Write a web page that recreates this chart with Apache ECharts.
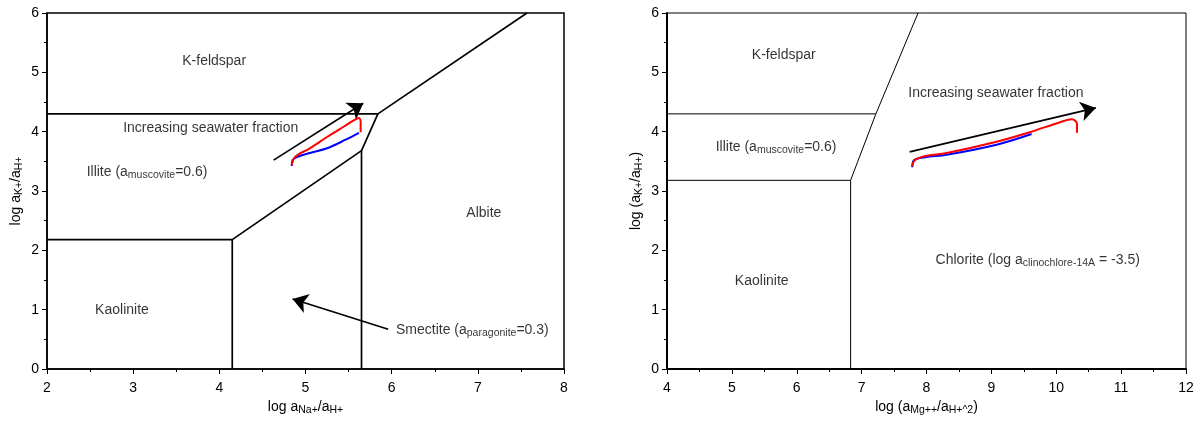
<!DOCTYPE html>
<html>
<head>
<meta charset="utf-8">
<script src="https://cdn.jsdelivr.net/npm/echarts@6/dist/echarts.min.js"></script>
<style>
  html, body { margin: 0; padding: 0; background: #fff; }
  #chart { width: 1202px; height: 421px; }
</style>
</head>
<body>
<div id="chart"></div>
<script>
// ---- Na-K system (left diagram) ----
const naPhaseBoundaries = [
  [[2, 4.3], [5.84, 4.3], [7.57, 6]],
  [[2, 2.18], [4.15, 2.18], [4.15, 0]],
  [[4.15, 2.18], [5.65, 3.68], [5.84, 4.3]],
  [[5.65, 3.68], [5.65, 0]]
];
const naRedPath = [[4.84, 3.44], [4.87, 3.56], [4.91, 3.61], [5.05, 3.72], [5.25, 3.91], [5.46, 4.10], [5.57, 4.20], [5.62, 4.23], [5.64, 4.16], [5.64, 3.99]];
const naBluePath = [[4.84, 3.42], [4.85, 3.52], [4.90, 3.57], [5.05, 3.64], [5.25, 3.72], [5.46, 3.86], [5.62, 3.98]];
const naArrows = [
  [[4.63, 3.52], [5.67, 4.48]],
  [[5.96, 0.67], [4.85, 1.18]]
];
const naLabels = [
  { at: [3.94, 5.19], text: 'K-feldspar', align: 'center' },
  { at: [3.90, 4.06], text: 'Increasing seawater fraction', align: 'center' },
  { at: [2.46, 3.32], text: 'Illite (a{sub|muscovite}=0.6)', align: 'left' },
  { at: [7.07, 2.63], text: 'Albite', align: 'center' },
  { at: [2.87, 0.99], text: 'Kaolinite', align: 'center' },
  { at: [6.05, 0.66], text: 'Smectite (a{sub|paragonite}=0.3)', align: 'left' }
];

// ---- Mg-K system (right diagram) ----
const mgPhaseBoundaries = [
  [[4, 4.3], [7.22, 4.3]],
  [[7.87, 6], [7.22, 4.3], [6.83, 3.18], [6.83, 0]],
  [[4, 3.18], [6.83, 3.18]]
];
const mgRedPath = [[7.78, 3.42], [7.82, 3.52], [7.98, 3.59], [8.31, 3.64], [9.08, 3.83], [9.59, 3.99], [10.06, 4.16], [10.24, 4.21], [10.32, 4.13], [10.32, 3.98]];
const mgBluePath = [[7.78, 3.40], [7.81, 3.52], [7.98, 3.57], [8.31, 3.61], [9.08, 3.78], [9.62, 3.96]];
const mgArrows = [
  [[7.74, 3.66], [10.61, 4.40]]
];
const mgLabels = [
  { at: [5.80, 5.29], text: 'K-feldspar', align: 'center' },
  { at: [9.07, 4.65], text: 'Increasing seawater fraction', align: 'center' },
  { at: [4.75, 3.74], text: 'Illite (a{sub|muscovite}=0.6)', align: 'left' },
  { at: [5.46, 1.48], text: 'Kaolinite', align: 'center' },
  { at: [8.14, 1.84], text: 'Chlorite (log a{sub|clinochlore-14A} = -3.5)', align: 'left' }
];

const yTicks = [0, 6];
const naXRange = [2, 8];
const mgXRange = [4, 12];

const FONT = 'Liberation Sans, Arial, sans-serif';
const TEXT = '#000';
const richText = {
  sub: { fontFamily: FONT, fontSize: 10.5, color: TEXT, padding: [7, 0, 0, 0] }
};

function axisStyle(lineWidth) {
  return {
    axisLine: { show: true, lineStyle: { color: '#000', width: lineWidth } },
    axisTick: { show: true, inside: false, length: 5, lineStyle: { color: '#000' } },
    minorTick: { show: true, splitNumber: 2, length: 3, lineStyle: { color: '#000' } },
    splitLine: { show: false },
    axisLabel: { fontFamily: FONT, fontSize: 14, color: TEXT }
  };
}

function boundarySeries(list, idx, width) {
  return list.map(pts => ({
    type: 'line', xAxisIndex: idx, yAxisIndex: idx, data: pts,
    showSymbol: false, silent: true, animation: false,
    lineStyle: { color: '#000', width: width }
  }));
}

function pathSeries(pts, idx, color) {
  return {
    type: 'line', xAxisIndex: idx, yAxisIndex: idx, data: pts,
    smooth: 0.35, showSymbol: false, animation: false, silent: true,
    lineStyle: { color: color, width: 2 }
  };
}

function arrowSeries(list, idx) {
  return {
    type: 'lines', coordinateSystem: 'cartesian2d', xAxisIndex: idx, yAxisIndex: idx,
    data: list.map(c => ({ coords: c })),
    symbol: ['none', 'arrow'], symbolSize: [0, 15],
    lineStyle: { color: '#000', width: 1.7, opacity: 1 },
    animation: false, silent: true
  };
}

function labelSeries(list, idx) {
  return {
    type: 'scatter', xAxisIndex: idx, yAxisIndex: idx, symbolSize: 0, silent: true, animation: false,
    data: list.map(l => ({
      value: l.at,
      label: {
        show: true,
        position: l.align === 'left' ? 'right' : 'inside',
        distance: 0,
        formatter: l.text,
        rich: richText,
        fontFamily: FONT, fontSize: 14, color: TEXT
      }
    }))
  };
}

const nameStyle = { fontFamily: FONT, fontSize: 14, color: TEXT, rich: richText };

const chart = echarts.init(document.getElementById('chart'), null, { renderer: 'canvas' });
chart.setOption({
  backgroundColor: '#fff',
  animation: false,
  grid: [
    { left: 47, right: 638, top: 13, bottom: 50, show: true, borderColor: '#000', borderWidth: 1.5 },
    { left: 667, right: 16, top: 13, bottom: 50, show: true, borderColor: '#000', borderWidth: 1 }
  ],
  xAxis: [
    Object.assign({
      type: 'value', gridIndex: 0, min: naXRange[0], max: naXRange[1], interval: 1,
      name: 'log a{sub|Na+}/a{sub|H+}', nameLocation: 'middle', nameGap: 29, nameTextStyle: nameStyle
    }, axisStyle(1.5), { axisLabel: { fontFamily: FONT, fontSize: 14, color: TEXT, margin: 12 } }),
    Object.assign({
      type: 'value', gridIndex: 1, min: mgXRange[0], max: mgXRange[1], interval: 1,
      name: 'log (a{sub|Mg++}/a{sub|H+^2})', nameLocation: 'middle', nameGap: 29, nameTextStyle: nameStyle
    }, axisStyle(2), { axisLabel: { fontFamily: FONT, fontSize: 14, color: TEXT, margin: 12 } })
  ],
  yAxis: [
    Object.assign({
      type: 'value', gridIndex: 0, min: yTicks[0], max: yTicks[1], interval: 1,
      name: 'log a{sub|K+}/a{sub|H+}', nameLocation: 'middle', nameGap: 22, nameTextStyle: nameStyle
    }, axisStyle(1.5)),
    Object.assign({
      type: 'value', gridIndex: 1, min: yTicks[0], max: yTicks[1], interval: 1,
      name: 'log (a{sub|K+}/a{sub|H+})', nameLocation: 'middle', nameGap: 22, nameTextStyle: nameStyle
    }, axisStyle(2))
  ],
  series: [
    ...boundarySeries(naPhaseBoundaries, 0, 1.7),
    pathSeries(naBluePath, 0, '#0000ff'),
    pathSeries(naRedPath, 0, '#ff0000'),
    arrowSeries(naArrows, 0),
    labelSeries(naLabels, 0),
    ...boundarySeries(mgPhaseBoundaries, 1, 1),
    pathSeries(mgBluePath, 1, '#0000ff'),
    pathSeries(mgRedPath, 1, '#ff0000'),
    arrowSeries(mgArrows, 1),
    labelSeries(mgLabels, 1)
  ]
});
</script>
</body>
</html>
